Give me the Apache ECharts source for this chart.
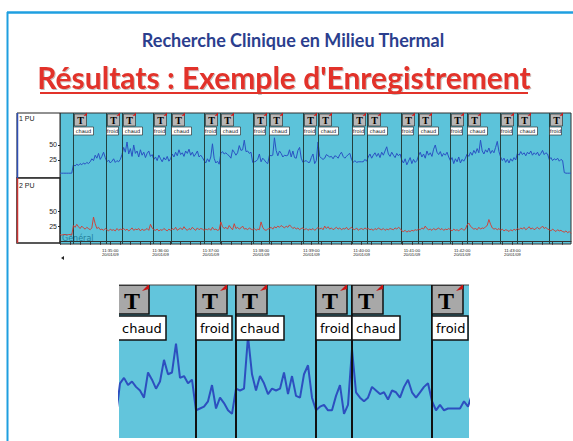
<!DOCTYPE html>
<html><head><meta charset="utf-8">
<script src="https://cdn.jsdelivr.net/npm/echarts@6/dist/echarts.min.js"></script>
<style>html,body{margin:0;padding:0;background:#fff}#c{width:573px;height:441px}</style>
</head><body><div id="c"></div>
<script>
// ---- data (samples every STEP seconds from 11:34:00) ----
const STEP = 2;
const ch1PU = [
3,3,3,3,3,3,3,3,
17,15,18,16,19,17,20,18,21,19,22,
27,24,33,28,36,26,31,38,29,
22,25,20,23,27,21,24,22,26,
34,46,38,55,35,44,31,50,36,40,30,42,33,38,29,36,40,31,34,
26,30,24,33,27,22,29,25,31,23,27,
35,30,38,32,42,34,37,31,40,36,43,33,38,31,35,40,30,33,29,
24,20,27,22,30,52,28,20,23,18,
36,39,35,37,34,32,28,42,38,33,37,49,41,42,58,39,40,36,38,
21,22,23,26,35,22,28,25,21,19,
33,32,33,62,41,32,40,36,30,33,32,33,42,30,40,29,28,41,46,28,
21,23,24,21,21,29,35,19,24,
55,31,28,26,28,34,32,30,31,27,32,31,28,34,38,31,28,31,34,36,
26,21,24,21,22,22,22,22,26,23,
30,35,28,33,37,31,36,29,38,33,40,47,35,31,38,33,29,36,32,35,
25,20,27,17,23,29,19,26,21,24,
32,38,30,35,28,40,33,37,31,43,50,38,34,39,31,36,33,38,30,
24,29,19,27,22,30,20,26,23,28,
35,31,38,33,41,36,44,37,58,40,35,42,38,45,36,41,37,46,56,39,
30,24,28,21,26,20,27,23,29,25,
36,33,39,34,37,32,38,35,40,33,37,34,38,32,36,41,34,37,35,
26,29,24,27,25,28,23,26,24,
4,3,3,3,3
];
const ch2PU = [
12,11,12,12,11,12,12,11,
27,24,29,25,22,26,23,21,24,22,20,
23,41,30,22,24,20,21,19,22,
20,18,21,19,20,18,22,19,21,
20,22,19,21,18,20,23,19,21,20,22,18,21,19,20,22,19,29,23,
20,19,21,18,20,19,22,20,18,21,19,
22,20,24,19,21,23,20,25,21,19,22,20,24,21,19,23,20,22,21,
19,21,20,22,19,24,20,21,19,20,
33,25,22,24,21,27,23,20,30,22,24,21,23,26,21,22,20,23,21,
20,22,19,21,20,33,24,20,19,21,
22,24,21,25,23,26,24,27,25,23,26,24,28,25,22,24,21,23,20,22,
23,20,22,19,21,20,22,19,21,
24,21,23,20,26,22,25,21,23,20,22,24,21,23,20,22,21,24,20,22,
24,21,20,23,19,21,22,20,23,21,
22,20,21,19,22,20,23,21,20,22,19,21,20,22,21,20,23,21,24,22,
18,17,19,16,18,17,19,18,20,19,
21,20,23,21,26,22,20,21,19,22,20,21,23,20,22,19,21,20,22,
20,18,21,19,20,18,21,22,19,21,
28,31,26,23,21,22,20,24,21,23,22,25,27,37,29,23,21,22,20,22,
19,21,18,20,19,17,20,18,21,19,
22,20,23,21,24,20,22,25,21,23,20,22,24,21,23,26,22,24,21,
20,18,21,19,17,20,18,19,17,
16,18,15,17,14
];
const eventTimes = [16,55,74,111,132,172,191,230,250,290,308,348,367,407,427,465,486,525,546,584];
const eventLabels = ['chaud','froid','chaud','froid','chaud','froid','chaud','froid','chaud','froid',
                     'chaud','froid','chaud','froid','chaud','froid','chaud','froid','chaud','froid'];
const xTickValues = [60,120,180,240,300,360,420,480,540];
const xTickLabels = ['11:35:00','11:36:00','11:37:00','11:38:00','11:39:00','11:40:00','11:41:00','11:42:00','11:43:00'];
const xDateLabel = '20/01/09';
const yTickValues = [25, 50];
const channelNames = ['1 PU', '2 PU'];
const generalLabel = 'Général';
const titleText = 'Recherche Clinique en Milieu Thermal';
const subtitleText = "Résultats : Exemple d'Enregistrement";
const T_END = 610, INSET_MIN = 191.5, INSET_MAX = 366.5;

// ---- build ----
const s1 = ch1PU.map((v, i) => [i * STEP, v]);
const s2 = ch2PU.map((v, i) => [i * STEP, v]);
const evData = eventTimes.map((t, i) => ({value: [t, 0], lab: eventLabels[i]}));
const evInset = evData.filter(d => d.value[0] >= INSET_MIN - 1 && d.value[0] <= INSET_MAX);
const minorTicks = [];
for (let t = 0; t <= T_END; t += 12) minorTicks.push(t);

const chart = echarts.init(document.getElementById('c'), null, {renderer: 'svg', width: 573, height: 441});

function markerMain(params, api) {
  const cs = params.coordSys;
  const x = Math.round(api.coord([api.value(0), 0])[0]) + 0.5;
  const lab = evData[params.dataIndex].lab;
  const w = lab === 'chaud' ? 20 : 12;
  const top = cs.y;
  return {type: 'group', children: [
    {type: 'line', shape: {x1: x, y1: top, x2: x, y2: top + cs.height}, style: {stroke: '#22403f', lineWidth: 1}},
    {type: 'rect', shape: {x: x + 1, y: top + 1, width: 12, height: 12}, style: {fill: '#b6b6b6', stroke: '#333', lineWidth: 0.7}},
    {type: 'text', style: {text: 'T', x: x + 7, y: top + 7.5, align: 'center', verticalAlign: 'middle', font: 'bold 10px "Liberation Serif"', fill: '#000'}},
    {type: 'polygon', shape: {points: [[x + 10, top + 3], [x + 13.5, top - 0.5], [x + 13.5, top + 2.5]]}, style: {fill: '#d01818'}},
    {type: 'rect', shape: {x: x, y: top + 14, width: w, height: 8}, style: {fill: '#fff', stroke: '#333', lineWidth: 0.7}},
    {type: 'text', style: {text: lab, x: x + w / 2, y: top + 18.2, align: 'center', verticalAlign: 'middle', font: '5px "DejaVu Sans"', fill: '#000'}}
  ]};
}
function markerLine(params, api) {
  const cs = params.coordSys;
  const x = Math.round(api.coord([api.value(0), 0])[0]) + 0.5;
  return {type: 'line', shape: {x1: x, y1: cs.y, x2: x, y2: cs.y + cs.height}, style: {stroke: '#22403f', lineWidth: 1}};
}
function markerInset(params, api) {
  const cs = params.coordSys;
  const x = Math.round(api.coord([api.value(0), 0])[0]);
  const lab = evInset[params.dataIndex].lab;
  const w = lab === 'chaud' ? 48 : 36;
  const top = cs.y;
  const tx = Math.max(x + 4, cs.x + 2);
  return {type: 'group', children: [
    {type: 'line', shape: {x1: x, y1: top, x2: x, y2: top + cs.height}, style: {stroke: '#111', lineWidth: 2}},
    {type: 'rect', shape: {x: x, y: top, width: 31, height: 29}, style: {fill: '#a8a8a8', stroke: '#111', lineWidth: 1.5}},
    {type: 'text', style: {text: 'T', x: x + 14, y: top + 16, align: 'center', verticalAlign: 'middle', font: 'bold 24px "Liberation Serif"', fill: '#000'}},
    {type: 'polygon', shape: {points: [[x + 24, top + 6], [x + 31, top - 1], [x + 31, top + 4]]}, style: {fill: '#c81414'}},
    {type: 'rect', shape: {x: x, y: top + 31, width: w, height: 24}, style: {fill: '#fff', stroke: '#111', lineWidth: 1.5}},
    {type: 'text', style: {text: lab, x: tx, y: top + 43.5, align: 'left', verticalAlign: 'middle', font: '13px "DejaVu Sans"', fill: '#000'}}
  ]};
}

const yAxisCommon = {
  type: 'value',
  axisLine: {show: false},
  splitLine: {show: false},
  axisTick: {show: true, customValues: yTickValues, length: 2, lineStyle: {color: '#222'}},
  axisLabel: {customValues: yTickValues, fontSize: 7, fontFamily: 'Liberation Sans', color: '#222', margin: 3}
};

const option = {
  animation: false,
  backgroundColor: '#fff',
  graphic: [
    {type: 'line', shape: {x1: 7, y1: 12.5, x2: 573, y2: 12.5}, style: {stroke: '#1f9fe0', lineWidth: 2.5}},
    {type: 'line', shape: {x1: 7.5, y1: 12, x2: 7.5, y2: 441}, style: {stroke: '#1f9fe0', lineWidth: 2}},
    {type: 'text', x: 293, y: 40, style: {text: titleText, align: 'center', verticalAlign: 'middle', font: 'bold 18px Lato', fill: '#2b3e8e'}},
    {type: 'text', x: 284, y: 77, style: {text: subtitleText, align: 'center', verticalAlign: 'middle', font: 'bold 30px Lato', fill: '#e2332a', textShadowColor: 'rgba(0,0,0,0.25)', textShadowBlur: 1, textShadowOffsetX: 1, textShadowOffsetY: 1}},
    {type: 'line', shape: {x1: 40, y1: 93, x2: 528, y2: 93}, style: {stroke: '#e2332a', lineWidth: 2}},
    // main plot background & frame
    {type: 'rect', z: -10, shape: {x: 60, y: 113, width: 511, height: 131}, style: {fill: '#5cc3da', stroke: '#333', lineWidth: 1}},
    {type: 'rect', shape: {x: 17, y: 113, width: 43, height: 65}, style: {fill: '#fff', stroke: '#222', lineWidth: 1}},
    {type: 'rect', shape: {x: 17, y: 178, width: 43, height: 65}, style: {fill: '#fff', stroke: '#222', lineWidth: 1.5}},
    {type: 'line', shape: {x1: 17.5, y1: 113, x2: 17.5, y2: 178}, style: {stroke: '#2f4fb5', lineWidth: 1.5}},
    {type: 'line', shape: {x1: 17.5, y1: 178, x2: 17.5, y2: 243}, style: {stroke: '#c83434', lineWidth: 1.5}},
    {type: 'text', x: 19, y: 118, style: {text: channelNames[0], verticalAlign: 'middle', font: '7px "Liberation Sans"', fill: '#222'}},
    {type: 'text', x: 19, y: 185, style: {text: channelNames[1], verticalAlign: 'middle', font: '7px "Liberation Sans"', fill: '#222'}},
    {type: 'text', x: 62, y: 238, style: {text: generalLabel, verticalAlign: 'middle', font: '8px "DejaVu Sans"', fill: '#23809a'}},
    {type: 'polygon', shape: {points: [[61, 258], [64, 256], [64, 260]]}, style: {fill: '#222'}},
    // inset background
    {type: 'rect', z: -10, shape: {x: 119, y: 285, width: 350, height: 153}, style: {fill: '#62c5dc'}},
    {type: 'line', shape: {x1: 119, y1: 285, x2: 469, y2: 285}, style: {stroke: '#444', lineWidth: 1}}
  ],
  grid: [
    {left: 60, top: 113, width: 511, height: 65},
    {left: 60, top: 178, width: 511, height: 66},
    {left: 119, top: 285, width: 350, height: 153}
  ],
  xAxis: [
    {gridIndex: 0, type: 'value', min: 0, max: T_END, show: false},
    {gridIndex: 1, type: 'value', min: 0, max: T_END,
     axisLine: {show: true, lineStyle: {color: '#333', width: 1}},
     axisTick: {show: true, customValues: minorTicks, length: 3, lineStyle: {color: '#333'}},
     splitLine: {show: false},
     axisLabel: {customValues: xTickValues, margin: 4, fontSize: 4.3, lineHeight: 4.6, fontFamily: 'Liberation Sans', color: '#222',
       formatter: v => xTickLabels[xTickValues.indexOf(v)] + '\n' + xDateLabel}},
    {gridIndex: 2, type: 'value', min: INSET_MIN, max: INSET_MAX, show: false}
  ],
  yAxis: [
    Object.assign({gridIndex: 0, min: -5, max: 103.3}, yAxisCommon),
    Object.assign({gridIndex: 1, min: -3.8, max: 106.2}, yAxisCommon),
    {gridIndex: 2, type: 'value', min: 5.6, max: 90.6, show: false}
  ],
  series: [
    {type: 'custom', xAxisIndex: 0, yAxisIndex: 0, data: evData, renderItem: markerMain, z: 4, silent: true},
    {type: 'custom', xAxisIndex: 1, yAxisIndex: 1, data: evData, renderItem: markerLine, z: 1, silent: true},
    {type: 'line', xAxisIndex: 0, yAxisIndex: 0, data: s1, symbol: 'none', lineStyle: {color: '#2a52c2', width: 1}, z: 3},
    {type: 'line', xAxisIndex: 1, yAxisIndex: 1, data: s2, symbol: 'none', lineStyle: {color: '#d8382c', width: 0.9}, z: 3},
    {type: 'line', xAxisIndex: 2, yAxisIndex: 2, data: s1, symbol: 'none', clip: true, lineStyle: {color: '#2d4fbf', width: 2}, z: 3},
    {type: 'custom', xAxisIndex: 2, yAxisIndex: 2, data: evInset, renderItem: markerInset, clip: true, z: 4, silent: true}
  ]
};
chart.setOption(option);
</script>
</body></html>
